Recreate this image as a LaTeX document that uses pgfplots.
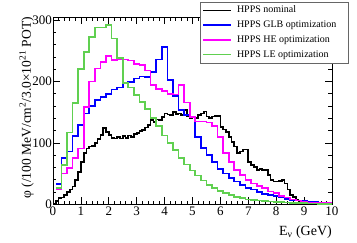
\documentclass[border=0pt]{standalone}
\usepackage{fontspec}
\setmainfont{Liberation Serif}
\usepackage{pgfplots}
\pgfplotsset{compat=1.18}
\definecolor{rgreen}{RGB}{96,208,80}
\definecolor{rmag}{RGB}{255,0,255}
\definecolor{rblue}{RGB}{0,0,255}
\begin{document}
\begin{tikzpicture}
\useasboundingbox (-53pt,-37.7pt) rectangle (304pt,204.3pt);
\begin{axis}[
  at={(0pt,0pt)}, anchor=south west,
  width=279pt, height=187.3pt, scale only axis,
  xmin=0, xmax=10, ymin=0, ymax=305,
  xtick={0,1,...,10}, ytick={0,100,200,300},
  minor x tick num=4, minor y tick num=4,
  tick align=inside, major tick length=7pt, minor tick length=3.5pt,
  axis line style={line width=0.8pt}, every tick/.style={line width=0.6pt, black},
  /pgf/number format/assume math mode=true,
  tick label style={font=\fontsize{13}{13}\selectfont},
  yticklabel style={inner sep=1pt},
  xticklabel style={inner sep=2pt},
  xlabel={E\textsubscript{ν} (GeV)},
  ylabel={φ (/100 MeV/cm\textsuperscript{2}/3.0×10\textsuperscript{21} POT)},
  every axis x label/.style={at={(axis description cs:1,-0.115)}, anchor=north east, inner sep=0pt, font=\fontsize{14}{14}\selectfont},
  every axis y label/.style={at={(axis description cs:-0.079,1)}, rotate=90, anchor=base east, inner sep=0pt, font=\fontsize{13.5}{14}\selectfont},
  legend style={at={(axis description cs:0.527,1.082)}, anchor=north west, draw=gray!80!black, line width=0.6pt, fill=white, inner sep=2pt,
    font=\fontsize{10}{12}\selectfont, row sep=1.7pt, column sep=3.5pt,
    nodes={inner sep=1.5pt, text height=7.5pt, text depth=2.5pt}},
  legend cell align=left,
  legend image code/.code={\draw[#1, line width=1.7pt] (0pt,0pt) -- (28pt,0pt);},
  const plot mark left,
  every axis plot/.append style={line width=1.7pt},
]
\addplot[black] table {
0.0 0
0.1 5
0.2 10
0.3 11
0.4 15
0.5 20
0.6 24
0.7 29
0.8 40
0.9 53
1.0 69
1.1 83
1.2 91
1.3 94
1.4 95
1.5 100
1.6 106
1.7 113
1.8 124
1.9 118
2.0 113
2.1 108
2.2 107
2.3 110
2.4 107
2.5 111
2.6 108
2.7 112
2.8 110
2.9 114
3.0 116
3.1 119
3.2 121
3.3 125
3.4 129
3.5 137
3.6 134
3.7 138
3.8 137
3.9 142
4.0 148
4.1 146
4.2 145
4.3 150
4.4 147
4.5 148
4.6 145
4.7 153
4.8 143
4.9 140
5.0 143
5.1 141
5.2 145
5.3 148
5.4 151
5.5 143
5.6 140
5.7 143
5.8 144
5.9 144
6.0 126
6.1 122
6.2 118
6.3 110
6.4 102
6.5 94
6.6 83
6.7 86
6.8 89
6.9 89
7.0 69
7.1 64
7.2 61
7.3 56
7.4 58
7.5 56
7.6 56
7.7 48
7.8 40
7.9 37
8.0 37
8.1 38
8.2 40
8.3 34
8.4 24
8.5 15
8.6 12
8.7 7
8.8 5
8.9 4
9.0 2
9.1 1.5
9.2 1.5
9.3 1
9.4 1
9.5 1
9.6 0.5
9.7 0.5
9.8 0.5
9.9 0.5
10.0 0.5
};
\addlegendentry{\makebox[108pt][l]{HPPS nominal}}
\addplot[rblue] table {
0.1 33
0.3 75
0.5 86
0.7 111
0.9 129
1.1 148
1.3 160
1.5 170
1.7 175
1.9 180
2.1 187
2.3 190
2.5 197
2.7 199
2.9 205
3.1 208
3.3 207
3.5 216
3.7 236
3.9 256
4.1 202
4.3 176
4.5 154
4.7 145
4.9 142
5.1 110
5.3 92
5.5 80
5.7 69
5.9 57
6.1 50
6.3 43
6.5 37
6.7 32
6.9 27
7.1 24
7.3 20
7.5 17
7.7 15
7.9 13
8.1 11
8.3 9
8.5 7
8.7 6
8.9 5
9.1 4
9.3 4
9.5 3
9.7 3
9.9 3
10.1 3
};
\addlegendentry{HPPS GLB optimization}
\addplot[rmag] table {
0.1 25
0.3 50
0.5 59
0.7 75
0.9 91
1.1 158
1.3 200
1.5 221
1.7 232
1.9 241
2.1 235
2.3 236
2.5 236
2.7 234
2.9 229
3.1 227
3.3 218
3.5 194
3.7 188
3.9 184
4.1 180
4.3 179
4.5 194
4.7 166
4.9 142
5.1 135
5.3 135
5.5 133
5.7 128
5.9 110
6.1 83
6.3 69
6.5 56
6.7 48
6.9 40
7.1 34
7.3 30
7.5 26
7.7 21
7.9 18
8.1 14
8.3 11
8.5 8
8.7 6
8.9 4
9.1 3
9.3 3
9.5 2
9.7 2
9.9 2
10.1 2
};
\addlegendentry{HPPS HE optimization}
\addplot[rgreen] table {
0.1 26
0.3 64
0.5 117
0.7 165
0.9 220
1.1 248
1.3 273
1.5 288
1.7 288
1.9 292
2.1 270
2.3 238
2.5 197
2.7 190
2.9 178
3.1 167
3.3 155
3.5 140
3.7 128
3.9 112
4.1 100
4.3 88
4.5 75
4.7 65
4.9 55
5.1 47
5.3 39
5.5 32
5.7 27
5.9 22
6.1 18
6.3 15
6.5 12
6.7 10
6.9 8
7.1 7
7.3 6
7.5 5
7.7 4.5
7.9 4
8.1 3.5
8.3 3
8.5 2.5
8.7 2
8.9 2
9.1 1.5
9.3 1.5
9.5 1
9.7 1
9.9 1
10.1 1
};
\addlegendentry{HPPS LE optimization}
\node[anchor=south west, inner sep=0pt, font=\fontsize{12}{12}\selectfont] at (axis description cs:0,1.012) {×10\textsuperscript{3}};
\end{axis}
\end{tikzpicture}
\end{document}
